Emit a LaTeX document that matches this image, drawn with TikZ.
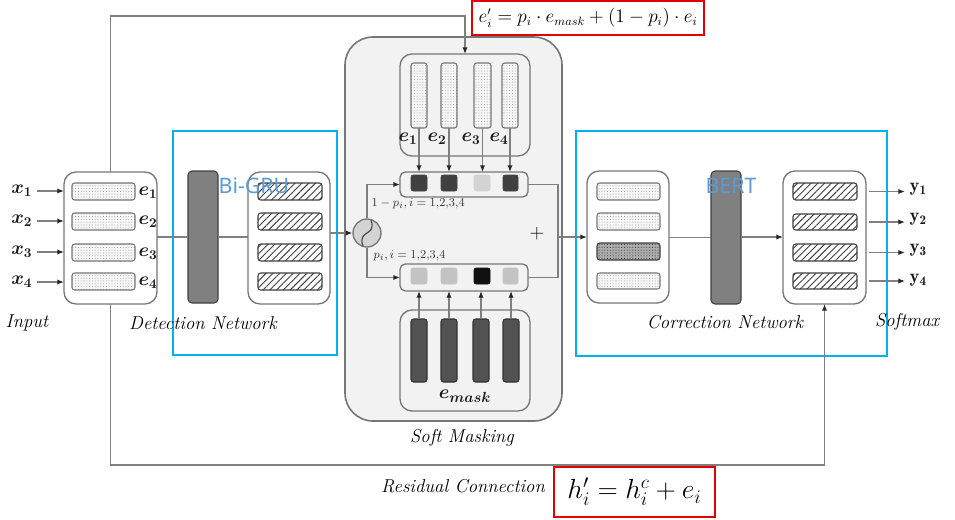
\documentclass[tikz,border=0pt]{standalone}
\usepackage{amsmath,amssymb,bm}
\usepackage{fontspec}
\newfontfamily\labelsans{Noto Sans}
\usetikzlibrary{patterns.meta,fit,arrows.meta,calc}
\definecolor{linegray}{HTML}{7F7F7F}
\definecolor{boxgray}{HTML}{767676}
\definecolor{panel}{HTML}{F2F2F2}
\definecolor{cyanbox}{HTML}{00B0F0}
\definecolor{bluetext}{HTML}{5B9BD5}
\definecolor{redbox}{HTML}{E00000}
\definecolor{sqdark}{HTML}{404040}
\definecolor{sqlight}{HTML}{D3D3D3}
\definecolor{sqmid}{HTML}{C3C3C3}
\definecolor{sqblack}{HTML}{111111}
\definecolor{maskbar}{HTML}{525252}
\definecolor{netbar}{HTML}{808080}
\newcommand\mkbox[6]{\node[#2,fit={(#3,#4)(#5,#6)},inner sep=0pt,outer sep=0pt] (#1) {};}
\tikzset{
  conn/.style={draw=linegray, line width=1pt},
  arr/.style={conn, -{Latex[length=5pt,width=4pt,color=black!85]}},
  container/.style={draw=boxgray, line width=1pt, rounded corners=9pt, fill=white},
  innerpanel/.style={draw=boxgray, line width=1pt, rounded corners=9pt, fill=panel},
  strip/.style={draw=boxgray, line width=1pt, rounded corners=4pt, fill=panel},
  dotbar/.style={draw=boxgray, line width=0.8pt, rounded corners=2pt,
     preaction={fill=gray!6}, pattern={Dots[radius=0.4pt,distance=2.1pt]}, pattern color=gray!75},
  darkdotbar/.style={draw=sqdark, line width=0.8pt, rounded corners=2pt,
     preaction={fill=gray!65}, pattern={Dots[radius=0.4pt,distance=2.1pt]}, pattern color=black!80},
  hatchbar/.style={draw=sqdark, line width=0.8pt, rounded corners=2pt,
     preaction={fill=white}, pattern={Lines[angle=45,distance=3.6pt,line width=0.7pt]}, pattern color=black!75},
  netbarst/.style={draw=sqdark, line width=0.8pt, rounded corners=3pt, fill=netbar},
  maskbarst/.style={draw=black!80, line width=0.8pt, rounded corners=2pt, fill=maskbar},
  sq/.style={rounded corners=1.5pt, draw=#1, fill=#1},
  bluebox/.style={draw=cyanbox, line width=0.8pt},
  redframe/.style={draw=redbox, line width=0.8pt},
  lab/.style={font=\fontsize{14}{16}\selectfont\itshape, text=black},
  bluelab/.style={font=\labelsans\fontsize{16}{18}\selectfont, text=bluetext},
  mathlab/.style={font=\fontsize{14}{16}\selectfont, text=black!90},
  smalllab/.style={font=\fontsize{9.5}{11}\selectfont, text=black!80},
}
\begin{document}
\begin{tikzpicture}[x=0.75pt,y=-0.75pt]
\useasboundingbox (0,0) rectangle (955,519);

% ---------- blue network frames ----------
\mkbox{detframe}{bluebox}{173}{131}{337}{355}
\mkbox{corframe}{bluebox}{576}{131}{887}{356}

% ---------- soft masking panel ----------
\mkbox{softpanel}{draw=boxgray, line width=1.2pt, rounded corners=21pt, fill=panel}{345}{37}{562}{421}

% ---------- input ----------
\mkbox{inbox}{container}{64}{172}{157}{304}
\mkbox{inA}{dotbar}{72}{183}{135}{200}
\mkbox{inB}{dotbar}{72}{213}{135}{230}
\mkbox{inC}{dotbar}{72}{244}{135}{261}
\mkbox{inD}{dotbar}{72}{273}{135}{290}
\node[mathlab] (eA) at (148,193) {$\bm{e_1}$};
\node[mathlab] (eB) at (148,222) {$\bm{e_2}$};
\node[mathlab] (eC) at (148,254) {$\bm{e_3}$};
\node[mathlab] (eD) at (148,283) {$\bm{e_4}$};
\node[mathlab, anchor=east] (xA) at (37,191) {$\bm{x_1}$};
\node[mathlab, anchor=east] (xB) at (37,221) {$\bm{x_2}$};
\node[mathlab, anchor=east] (xC) at (37,252) {$\bm{x_3}$};
\node[mathlab, anchor=east] (xD) at (37,282) {$\bm{x_4}$};
\foreach \n in {A,B,C,D}{ \draw[arr] (x\n.east) -- (x\n.east -| inbox.west); }

% ---------- detection network ----------
\mkbox{gru}{netbarst}{188}{171}{218}{303}
\mkbox{detout}{container}{248}{172}{330}{304}
\mkbox{dA}{hatchbar}{258}{183}{322}{200}
\mkbox{dB}{hatchbar}{258}{213}{322}{230}
\mkbox{dC}{hatchbar}{258}{244}{322}{261}
\mkbox{dD}{hatchbar}{258}{273}{322}{290}
\draw[conn] (inbox.east |- gru.west) -- (gru.west);
\draw[conn] (gru.east) -- (gru.east -| detout.west);
\node[bluelab] (bigru) at (254,186) {Bi-GRU};

% ---------- sigmoid ----------
\node[circle, draw=boxgray, line width=1pt, fill=sqlight, minimum size=21pt, inner sep=0pt] (sig) at (367,233) {};
\draw[black!75, line width=0.8pt] ($(sig.center)+(-4,13)$) .. controls ($(sig.center)+(-10,-4)$) and ($(sig.center)+(10,4)$) .. ($(sig.center)+(4,-13)$);
\draw[arr] (detout.east |- sig.west) -- (sig.west);

% ---------- embeddings e_i (top) ----------
\mkbox{ebox}{innerpanel}{400}{54}{530}{156}
\mkbox{vA}{dotbar}{411}{63}{427}{128}
\mkbox{vB}{dotbar}{441}{63}{457}{128}
\mkbox{vC}{dotbar}{474}{63}{491}{128}
\mkbox{vD}{dotbar}{502}{63}{518}{128}
\node[mathlab] (veA) at (408,139) {$\bm{e_1}$};
\node[mathlab] (veB) at (437,139) {$\bm{e_2}$};
\node[mathlab] (veC) at (471,139) {$\bm{e_3}$};
\node[mathlab] (veD) at (499,139) {$\bm{e_4}$};

% ---------- upper strip ----------
\mkbox{upper}{strip}{400}{172}{528}{197}
\mkbox{uA}{sq=sqdark}{411}{175}{427}{191}
\mkbox{uB}{sq=sqdark}{441}{175}{457}{191}
\mkbox{uC}{sq=sqlight}{474}{175}{490}{191}
\mkbox{uD}{sq=sqdark}{503}{175}{518}{191}
\foreach \n in {A,B,C,D}{ \draw[arr] (v\n.south) -- (v\n.south |- upper.north); }

% ---------- lower strip ----------
\mkbox{lower}{strip}{400}{264}{528}{291}
\mkbox{lA}{sq=sqmid}{411}{268}{427}{284}
\mkbox{lB}{sq=sqmid}{441}{268}{457}{284}
\mkbox{lC}{sq=sqblack}{474}{268}{490}{284}
\mkbox{lD}{sq=sqmid}{503}{268}{518}{284}

% ---------- e_mask ----------
\mkbox{maskbox}{innerpanel}{400}{310}{530}{411}
\mkbox{mA}{maskbarst}{411}{319}{427}{382}
\mkbox{mB}{maskbarst}{441}{319}{457}{382}
\mkbox{mC}{maskbarst}{473}{319}{489}{382}
\mkbox{mD}{maskbarst}{503}{319}{519}{382}
\node[mathlab, font=\fontsize{15}{17}\selectfont] (emask) at (465,396) {$\bm{e_{mask}}$};
\foreach \n in {A,B,C,D}{ \draw[arr] (m\n.north) -- (m\n.north |- lower.south); }

% ---------- branches ----------
\draw[arr] (sig.north) |- (upper.west);
\draw[arr] (sig.south) |- (lower.west);
\node[smalllab, anchor=west] (omp) at (367,204) {$1-p_i, i=1{,}2{,}3{,}4$};
\node[smalllab, anchor=west] (pp) at (369,256) {$p_i, i=1{,}2{,}3{,}4$};
\coordinate (mergeT) at (558,184.5);
\coordinate (merge) at (558,237);
\draw[conn] (upper.east) -- (mergeT) -- (mergeT |- lower.east) -- (lower.east);
\node[font=\fontsize{14}{16}\selectfont] (plus) at (537,234) {$+$};

% ---------- correction network ----------
\mkbox{corin}{container}{587}{171}{669}{303}
\mkbox{cA}{dotbar}{597}{183}{660}{200}
\mkbox{cB}{dotbar}{597}{213}{660}{230}
\mkbox{cC}{darkdotbar}{597}{243}{660}{260}
\mkbox{cD}{dotbar}{597}{273}{660}{289}
\mkbox{bert}{netbarst}{711}{171}{741}{304}
\mkbox{corout}{container}{783}{171}{866}{304}
\mkbox{oA}{hatchbar}{793}{183}{857}{200}
\mkbox{oB}{hatchbar}{793}{214}{857}{230}
\mkbox{oC}{hatchbar}{793}{244}{857}{261}
\mkbox{oD}{hatchbar}{793}{273}{857}{289}
\node[bluelab] (bertlab) at (731,186) {BERT};
\draw[arr] (merge) -- (merge -| corin.west);
\draw[conn] (corin.east |- bert.west) -- (bert.west);
\draw[arr] (bert.east |- merge) -- (merge -| corout.west);

% ---------- outputs ----------
\node[mathlab, anchor=west] (yA) at (905,189) {$\mathbf{y_1}$};
\node[mathlab, anchor=west] (yB) at (905,219) {$\mathbf{y_2}$};
\node[mathlab, anchor=west] (yC) at (905,250) {$\mathbf{y_3}$};
\node[mathlab, anchor=west] (yD) at (905,280) {$\mathbf{y_4}$};
\coordinate (ostart) at (869,0);
\draw[arr] (ostart |- oA) -- (oA -| yA.west);
\draw[arr] (ostart |- oB) -- (oB -| yB.west);
\draw[arr] (ostart |- oC) -- (oC -| yC.west);
\draw[arr] (ostart |- oD) -- (oD -| yD.west);

% ---------- loops ----------
\coordinate (topturn) at (110.5,16);
\draw[arr] (inbox.north) -- (topturn) -| (ebox.north);
\coordinate (botturn) at (110.5,465);
\draw[arr] (inbox.south) -- (botturn) -| (corout.south);

% ---------- labels ----------
\node[lab] (linput) at (27,323) {Input};
\node[lab] (ldet) at (203,323) {Detection Network};
\node[lab] (lsoft) at (462,438) {Soft Masking};
\node[lab] (lcor) at (725,322) {Correction Network};
\node[lab] (lsm) at (907,322) {Softmax};
\node[lab] (lres) at (463,486) {Residual Connection};

% ---------- formulas ----------
\mkbox{topred}{redframe, fill=white}{472}{1}{704}{35}
\node[font=\fontsize{13.5}{15}\selectfont] (ftop) at (topred.center) {$e'_i = p_i\cdot e_{mask} + (1-p_i)\cdot e_i$};
\mkbox{botred}{redframe}{554}{467}{715}{517}
\node[font=\fontsize{20}{22}\selectfont] (fbot) at (botred.center) {$h'_i = h^c_i + e_i$};
\end{tikzpicture}
\end{document}
